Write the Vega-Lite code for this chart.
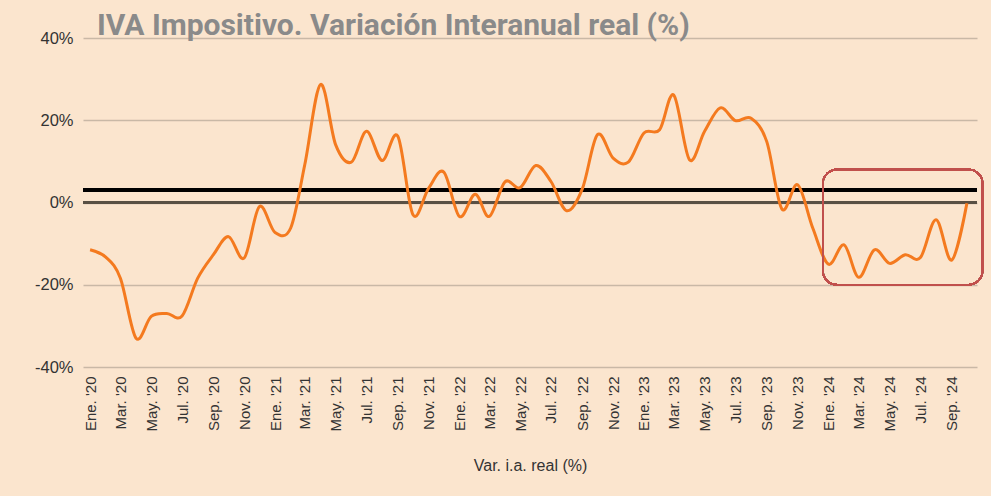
{
  "$schema": "https://vega.github.io/schema/vega-lite/v6.json",
  "width": 894,
  "height": 329,
  "autosize": {"type": "none"},
  "padding": {"left": 83, "top": 38, "right": 14, "bottom": 129},
  "background": "#FBE5CE",
  "config": {"view": {"stroke": null}, "font": "Liberation Sans"},
  "title": {
    "text": "IVA Impositivo. Variación Interanual real (%)",
    "anchor": "start",
    "frame": "group",
    "dx": 14,
    "dy": 16,
    "offset": 5,
    "font": "Roboto",
    "fontSize": 30,
    "fontWeight": "bold",
    "color": "#8A8A8A"
  },
  "data": {
    "values": [
      {"date": "2020-01-01", "value": -11.5},
      {"date": "2020-02-01", "value": -13.3},
      {"date": "2020-03-01", "value": -18.4},
      {"date": "2020-04-01", "value": -33.0},
      {"date": "2020-05-01", "value": -27.7},
      {"date": "2020-06-01", "value": -27.0},
      {"date": "2020-07-01", "value": -27.6},
      {"date": "2020-08-01", "value": -18.4},
      {"date": "2020-09-01", "value": -12.7},
      {"date": "2020-10-01", "value": -8.3},
      {"date": "2020-11-01", "value": -13.5},
      {"date": "2020-12-01", "value": -1.0},
      {"date": "2021-01-01", "value": -7.3},
      {"date": "2021-02-01", "value": -6.2},
      {"date": "2021-03-01", "value": 9.3},
      {"date": "2021-04-01", "value": 28.7},
      {"date": "2021-05-01", "value": 14.0},
      {"date": "2021-06-01", "value": 9.8},
      {"date": "2021-07-01", "value": 17.3},
      {"date": "2021-08-01", "value": 10.2},
      {"date": "2021-09-01", "value": 16.1},
      {"date": "2021-10-01", "value": -3.0},
      {"date": "2021-11-01", "value": 3.5},
      {"date": "2021-12-01", "value": 7.4},
      {"date": "2022-01-01", "value": -3.4},
      {"date": "2022-02-01", "value": 2.0},
      {"date": "2022-03-01", "value": -3.4},
      {"date": "2022-04-01", "value": 5.0},
      {"date": "2022-05-01", "value": 3.6},
      {"date": "2022-06-01", "value": 9.0},
      {"date": "2022-07-01", "value": 5.1},
      {"date": "2022-08-01", "value": -2.0},
      {"date": "2022-09-01", "value": 3.3},
      {"date": "2022-10-01", "value": 16.5},
      {"date": "2022-11-01", "value": 10.8},
      {"date": "2022-12-01", "value": 9.8},
      {"date": "2023-01-01", "value": 16.9},
      {"date": "2023-02-01", "value": 17.7},
      {"date": "2023-03-01", "value": 26.1},
      {"date": "2023-04-01", "value": 10.4},
      {"date": "2023-05-01", "value": 17.3},
      {"date": "2023-06-01", "value": 23.0},
      {"date": "2023-07-01", "value": 19.9},
      {"date": "2023-08-01", "value": 20.5},
      {"date": "2023-09-01", "value": 14.8},
      {"date": "2023-10-01", "value": -1.6},
      {"date": "2023-11-01", "value": 4.3},
      {"date": "2023-12-01", "value": -6.2},
      {"date": "2024-01-01", "value": -15.0},
      {"date": "2024-02-01", "value": -10.3},
      {"date": "2024-03-01", "value": -18.2},
      {"date": "2024-04-01", "value": -11.5},
      {"date": "2024-05-01", "value": -14.8},
      {"date": "2024-06-01", "value": -12.7},
      {"date": "2024-07-01", "value": -13.4},
      {"date": "2024-08-01", "value": -4.2},
      {"date": "2024-09-01", "value": -14.0},
      {"date": "2024-10-01", "value": -0.2}
    ]
  },
  "encoding": {
    "x": {
      "field": "date",
      "type": "temporal",
      "scale": {
        "type": "utc",
        "domain": [
          {"year": 2019, "month": 12, "date": 18, "utc": true},
          {"year": 2024, "month": 10, "date": 21, "utc": true}
        ]
      },
      "axis": {
        "title": "Var. i.a. real (%)",
        "titleFontWeight": "normal",
        "titleFontSize": 16,
        "titleColor": "#333333",
        "titlePadding": 26,
        "grid": false,
        "domain": false,
        "ticks": false,
        "labelAngle": -90,
        "labelAlign": "right",
        "labelBaseline": "middle",
        "labelPadding": 9,
        "labelFontSize": 15,
        "labelColor": "#333333",
        "labelOverlap": false,
        "tickCount": {"interval": "month", "step": 2},
        "labelExpr": "['Ene.','Feb.','Mar.','Abr.','May.','Jun.','Jul.','Ago.','Sep.','Oct.','Nov.','Dic.'][utcmonth(datum.value)] + \" '\" + utcFormat(datum.value, '%y')"
      }
    },
    "y": {
      "field": "value",
      "type": "quantitative",
      "scale": {"domain": [-40, 40], "nice": false, "zero": false},
      "axis": {
        "title": null,
        "values": [-40, -20, 0, 20, 40],
        "grid": true,
        "gridColor": "#C9B8A6",
        "gridWidth": 1.5,
        "domain": false,
        "ticks": false,
        "labelPadding": 10,
        "labelFontSize": 16.5,
        "labelColor": "#333333",
        "labelExpr": "datum.value + '%'"
      }
    }
  },
  "layer": [
    {
      "mark": {"type": "rule", "color": "#5A5044", "strokeWidth": 1.5},
      "encoding": {"y": {"datum": 0}, "x": null}
    },
    {
      "mark": {"type": "rule", "color": "#000000", "strokeWidth": 3},
      "encoding": {"y": {"datum": 3.1}, "x": null}
    },
    {
      "mark": {"type": "line", "interpolate": "cardinal", "color": "#F47A1F", "strokeWidth": 3}
    },
    {
      "mark": {"type": "rect", "filled": false, "stroke": "#C0504D", "strokeWidth": 1.5, "cornerRadius": 14, "clip": false},
      "encoding": {
        "x": {"datum": {"year": 2023, "month": 12, "date": 21, "utc": true}, "type": "temporal"},
        "x2": {"datum": {"year": 2024, "month": 11, "date": 1, "utc": true}},
        "y": {"datum": 8},
        "y2": {"datum": -20}
      }
    }
  ]
}
